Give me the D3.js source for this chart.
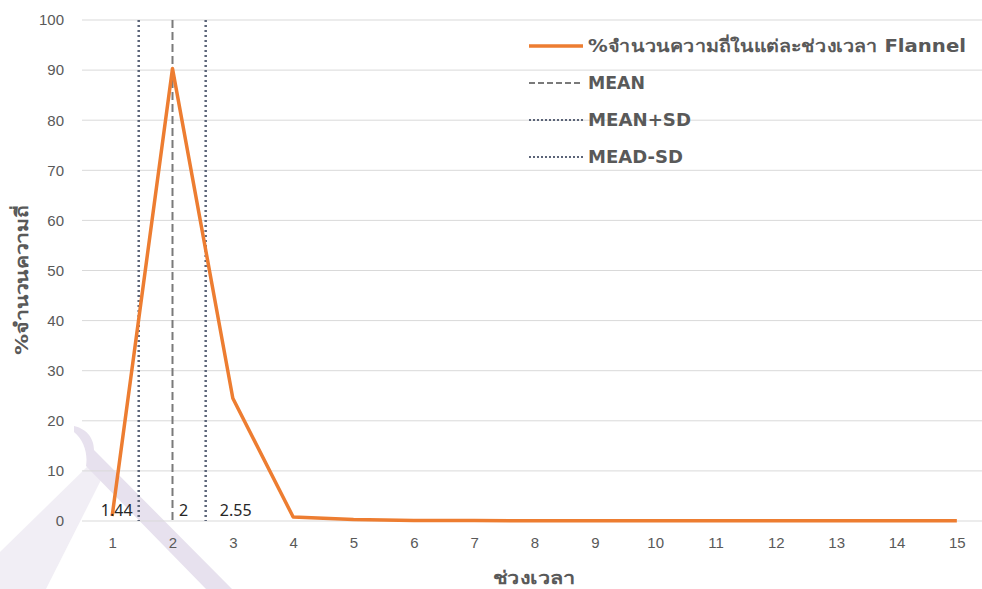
<!DOCTYPE html>
<html lang="th">
<head>
    <meta charset="UTF-8">
    <title>Flannel</title>
    <script src="https://cdn.jsdelivr.net/npm/d3@7/dist/d3.min.js"></script>
    <style>
        body { margin: 0; background: #fff; }
        svg { display: block; font-family: Tahoma, "Noto Sans", "DejaVu Sans", sans-serif; }
        .bold { font-family: Tahoma, "DejaVu Sans", "Noto Sans", sans-serif; font-weight: bold; }
    </style>
</head>
<body>
<script>

    var width = 982;
    var height = 589;

    // data
    var periods = [1, 2, 3, 4, 5, 6, 7, 8, 9, 10, 11, 12, 13, 14, 15];
    var percent = [1, 90.3, 24.5, 0.8, 0.3, 0.1, 0.1, 0.05, 0.05, 0.05, 0.05, 0.05, 0.05, 0.05, 0.05];
    var yTicks = [0, 10, 20, 30, 40, 50, 60, 70, 80, 90, 100];
    var refNames = ["MEAN+SD", "MEAN", "MEAD-SD"];
    var refValues = [2.55, 2, 1.44];
    var refLabels = ["2.55", "2", "1.44"];
    var seriesName = "%จำนวนความถี่ในแต่ละช่วงเวลา Flannel";

    var xScale = d3.scaleLinear()
        .domain([0.5, 15.5])
        .range([82, 987]);

    var yScale = d3.scaleLinear()
        .domain([0, 100])
        .range([521, 20]);

    var svg = d3.select("body").append("svg")
        .attr("width", width)
        .attr("height", height);

    // faint watermark in the lower left
    var wm = svg.append("g");
    wm.append("path")
        .attr("fill", "#f1eef5")
        .attr("d", "M0,552 L90,464 L102,478 L46,589 L0,589 Z");
    wm.append("path")
        .attr("fill", "#e7e1ee")
        .attr("d", "M74,426 C84,428 94,436 94,450 L232,589 L206,589 L86,466 C88,454 84,440 74,432 Z");

    // grid
    svg.append("g")
        .selectAll("line")
        .data(yTicks)
        .join("line")
        .attr("x1", 82)
        .attr("x2", 987)
        .attr("y1", function (d) { return yScale(d); })
        .attr("y2", function (d) { return yScale(d); })
        .attr("stroke", "#d9d9d9")
        .attr("stroke-width", 1);

    // axes (labels only)
    var yAxis = d3.axisLeft(yScale).tickValues(yTicks).tickSize(0).tickPadding(0);
    var yG = svg.append("g").attr("transform", "translate(64,0)").call(yAxis);
    yG.select(".domain").remove();
    yG.selectAll("text").attr("fill", "#595959").style("font-size", "15px");

    var xAxis = d3.axisBottom(xScale).tickValues(periods).tickSize(0).tickPadding(0);
    var xG = svg.append("g").attr("transform", "translate(0,537)").call(xAxis);
    xG.select(".domain").remove();
    xG.selectAll("text").attr("fill", "#595959").style("font-size", "15px");

    // reference lines
    var refStyle = {
        "MEAN": { color: "#7a7a7a", dash: "8,4", w: 2 },
        "MEAN+SD": { color: "#5b6478", dash: "2,3", w: 2.5 },
        "MEAD-SD": { color: "#5b6478", dash: "2,3", w: 2.5 }
    };

    svg.append("g")
        .selectAll("line")
        .data(refValues)
        .join("line")
        .attr("x1", function (d) { return xScale(d); })
        .attr("x2", function (d) { return xScale(d); })
        .attr("y1", yScale(100))
        .attr("y2", yScale(0))
        .attr("stroke", function (d, i) { return refStyle[refNames[i]].color; })
        .attr("stroke-width", function (d, i) { return refStyle[refNames[i]].w; })
        .attr("stroke-dasharray", function (d, i) { return refStyle[refNames[i]].dash; });

    // data series
    var lineFunction = d3.line()
        .x(function (d, i) { return xScale(periods[i]); })
        .y(function (d) { return yScale(d); });

    svg.append("path")
        .attr("d", lineFunction(percent))
        .attr("fill", "none")
        .attr("stroke", "#ed7d31")
        .attr("stroke-width", 3.5)
        .attr("stroke-linejoin", "round");

    // reference labels
    var labelOffset = [30, 11, -22];
    svg.append("g")
        .selectAll("text")
        .data(refValues)
        .join("text")
        .attr("x", function (d, i) { return xScale(d) + labelOffset[i]; })
        .attr("y", 516)
        .attr("text-anchor", "middle")
        .attr("fill", "#262626")
        .style("font-size", "16px")
        .text(function (d, i) { return refLabels[i]; });

    // legend
    var legendItems = [
        { name: seriesName, color: "#ed7d31", dash: null, w: 3.5, len: 378 },
        { name: refNames[1], color: "#7a7a7a", dash: "6,3", w: 2, len: 57 },
        { name: refNames[0], color: "#5b6478", dash: "2,2", w: 2, len: 103 },
        { name: refNames[2], color: "#5b6478", dash: "2,2", w: 2, len: 95 }
    ];
    var legend = svg.append("g");
    legendItems.forEach(function (item, i) {
        var y = 46 + i * 37;
        legend.append("line")
            .attr("x1", 529).attr("x2", 583)
            .attr("y1", y).attr("y2", y)
            .attr("stroke", item.color)
            .attr("stroke-width", item.w)
            .attr("stroke-dasharray", item.dash);
        legend.append("text")
            .attr("class", "bold")
            .attr("x", 588).attr("y", y)
            .attr("dy", "0.35em")
            .attr("fill", "#595959")
            .attr("textLength", item.len)
            .attr("lengthAdjust", "spacingAndGlyphs")
            .style("font-size", "17px")
            .text(item.name);
    });

    // axis titles
    svg.append("text")
        .attr("class", "bold")
        .attr("x", 534).attr("y", 584)
        .attr("text-anchor", "middle")
        .attr("fill", "#595959")
        .attr("textLength", 82)
        .attr("lengthAdjust", "spacingAndGlyphs")
        .style("font-size", "18px")
        .text("ช่วงเวลา");

    svg.append("text")
        .attr("class", "bold")
        .attr("transform", "translate(28,280) rotate(-90)")
        .attr("text-anchor", "middle")
        .attr("fill", "#595959")
        .attr("textLength", 150)
        .attr("lengthAdjust", "spacingAndGlyphs")
        .style("font-size", "18px")
        .text("%จำนวนความถี่");

</script>
</body>
</html>
